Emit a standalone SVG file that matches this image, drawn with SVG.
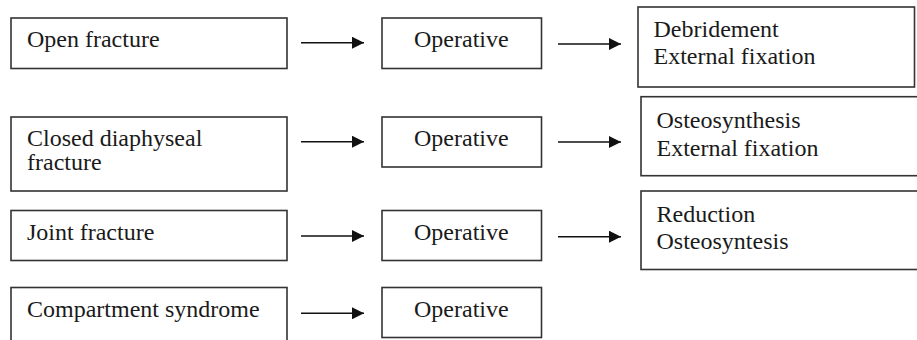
<svg xmlns="http://www.w3.org/2000/svg" width="917" height="340" viewBox="0 0 917 340">
<style>
.box{fill:#fff;stroke:#333;stroke-width:1.6}
.t{font-family:"Liberation Serif","Times New Roman",serif;font-size:24px;fill:#1a1a1a}
.c{stroke:#111;stroke-width:1.6;fill:none}
</style>
<defs>
<marker id="ah" markerUnits="userSpaceOnUse" markerWidth="13" markerHeight="12" refX="12" refY="6" orient="auto">
<path d="M0,0 L12,6 L0,12 Z" fill="#111"/>
</marker>
</defs>
<rect width="917" height="340" fill="#fff"/>
<g id="n1"><rect class="box" x="11" y="18" width="276" height="50.5"/><text class="t" x="27" y="47">Open fracture</text></g>
<g id="n2"><rect class="box" x="11" y="117" width="276" height="74"/><text class="t" x="27" y="146">Closed diaphyseal</text><text class="t" x="27" y="170">fracture</text></g>
<g id="n3"><rect class="box" x="11" y="210.5" width="276" height="50"/><text class="t" x="27" y="240">Joint fracture</text></g>
<g id="n4"><rect class="box" x="11" y="287.5" width="276" height="60"/><text class="t" x="27" y="317">Compartment syndrome</text></g>
<g id="o1"><rect class="box" x="382" y="18" width="159.5" height="50.5"/><text class="t" x="414" y="47">Operative</text></g>
<g id="o2"><rect class="box" x="382" y="117" width="159.5" height="50"/><text class="t" x="414" y="146">Operative</text></g>
<g id="o3"><rect class="box" x="382" y="210.5" width="159.5" height="50"/><text class="t" x="414" y="240">Operative</text></g>
<g id="o4"><rect class="box" x="382" y="287.5" width="159.5" height="50"/><text class="t" x="414" y="317">Operative</text></g>
<g id="r1"><rect class="box" x="638" y="7" width="276.5" height="80"/><text class="t" x="653.5" y="36.5">Debridement</text><text class="t" x="653.5" y="64">External fixation</text></g>
<g id="r2"><rect class="box" x="641" y="96.7" width="290" height="79"/><text class="t" x="656.5" y="128">Osteosynthesis</text><text class="t" x="656.5" y="156">External fixation</text></g>
<g id="r3"><rect class="box" x="641" y="191" width="290" height="78.5"/><text class="t" x="656.5" y="221.5">Reduction</text><text class="t" x="656.5" y="249">Osteosyntesis</text></g>
<g id="connectors">
<line class="c" x1="301" y1="42.7" x2="364" y2="42.7" marker-end="url(#ah)"/>
<line class="c" x1="301" y1="141.7" x2="364" y2="141.7" marker-end="url(#ah)"/>
<line class="c" x1="301" y1="236" x2="364" y2="236" marker-end="url(#ah)"/>
<line class="c" x1="301" y1="313.3" x2="364" y2="313.3" marker-end="url(#ah)"/>
<line class="c" x1="558" y1="44" x2="621" y2="44" marker-end="url(#ah)"/>
<line class="c" x1="558" y1="142" x2="621" y2="142" marker-end="url(#ah)"/>
<line class="c" x1="558" y1="236.7" x2="621" y2="236.7" marker-end="url(#ah)"/>
</g>
</svg>
